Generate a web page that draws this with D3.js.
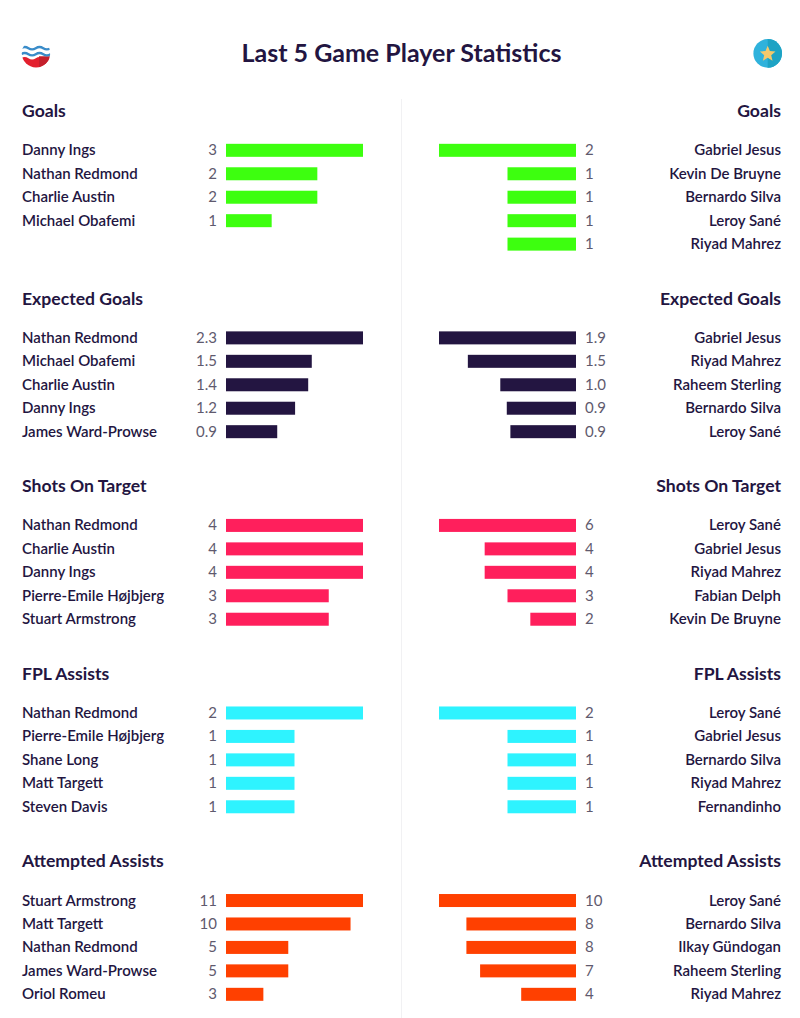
<!DOCTYPE html>
<html>
<head>
<meta charset="utf-8">
<script src="https://cdn.jsdelivr.net/npm/d3@7"></script>
<style>
  html, body { margin: 0; padding: 0; background: #fff; }
  text { font-family: Lato, sans-serif; }
</style>
</head>
<body>
<svg id="chart"></svg>
<script>
const [W, H] = [800, 1018];
const NAVY = '#231541';
const GREY = '#5f5a6e';

const pageTitle = 'Last 5 Game Player Statistics';
const statNames = ['Goals', 'Expected Goals', 'Shots On Target', 'FPL Assists', 'Attempted Assists'];
const statColors = ['#3dff0f', '#231541', '#ff1f5c', '#2ef3ff', '#ff4000'];

// bar lengths do not always agree with the rounded label, so labels are kept apart
const homeNames = [
    ['Danny Ings', 'Nathan Redmond', 'Charlie Austin', 'Michael Obafemi'],
    ['Nathan Redmond', 'Michael Obafemi', 'Charlie Austin', 'Danny Ings', 'James Ward-Prowse'],
    ['Nathan Redmond', 'Charlie Austin', 'Danny Ings', 'Pierre-Emile Højbjerg', 'Stuart Armstrong'],
    ['Nathan Redmond', 'Pierre-Emile Højbjerg', 'Shane Long', 'Matt Targett', 'Steven Davis'],
    ['Stuart Armstrong', 'Matt Targett', 'Nathan Redmond', 'James Ward-Prowse', 'Oriol Romeu']
];
const homeLabels = [
    ['3', '2', '2', '1'],
    ['2.3', '1.5', '1.4', '1.2', '0.9'],
    ['4', '4', '4', '3', '3'],
    ['2', '1', '1', '1', '1'],
    ['11', '10', '5', '5', '3']
];
const homeValues = [
    [3, 2, 2, 1],
    [2.3, 1.44, 1.38, 1.16, 0.86],
    [4, 4, 4, 3, 3],
    [2, 1, 1, 1, 1],
    [11, 10, 5, 5, 3]
];
const awayNames = [
    ['Gabriel Jesus', 'Kevin De Bruyne', 'Bernardo Silva', 'Leroy Sané', 'Riyad Mahrez'],
    ['Gabriel Jesus', 'Riyad Mahrez', 'Raheem Sterling', 'Bernardo Silva', 'Leroy Sané'],
    ['Leroy Sané', 'Gabriel Jesus', 'Riyad Mahrez', 'Fabian Delph', 'Kevin De Bruyne'],
    ['Leroy Sané', 'Gabriel Jesus', 'Bernardo Silva', 'Riyad Mahrez', 'Fernandinho'],
    ['Leroy Sané', 'Bernardo Silva', 'Ilkay Gündogan', 'Raheem Sterling', 'Riyad Mahrez']
];
const awayLabels = [
    ['2', '1', '1', '1', '1'],
    ['1.9', '1.5', '1.0', '0.9', '0.9'],
    ['6', '4', '4', '3', '2'],
    ['2', '1', '1', '1', '1'],
    ['10', '8', '8', '7', '4']
];
const awayValues = [
    [2, 1, 1, 1, 1],
    [1.9, 1.5, 1.05, 0.96, 0.91],
    [6, 4, 4, 3, 2],
    [2, 1, 1, 1, 1],
    [10, 8, 8, 7, 4]
];

function drawSide(svg, names, labels, values, color, top, isHome) {
    const x = d3.scaleLinear()
        .domain([0, d3.max(values)])
        .range(isHome ? [226, 363] : [576, 439]);
    const y = d3.scaleBand()
        .domain(d3.range(5))
        .range([top + 27.6, top + 27.6 + 5 * 23.45]);
    const rows = svg.append('g').selectAll('g')
        .data(values).enter().append('g');

    rows.append('rect')
        .attr('x', d => isHome ? x(0) : x(d))
        .attr('y', (d, i) => y(i) + y.bandwidth() / 2 - 6.5)
        .attr('width', d => Math.abs(x(d) - x(0)))
        .attr('height', 13)
        .attr('fill', color);

    rows.append('text')
        .attr('x', isHome ? 22 : 781)
        .attr('y', (d, i) => y(i) + y.bandwidth() / 2 + 5)
        .attr('text-anchor', isHome ? 'start' : 'end')
        .attr('font-size', 15)
        .attr('font-weight', 600)
        .attr('fill', NAVY)
        .text((d, i) => names[i]);

    rows.append('text')
        .attr('x', isHome ? 217 : 585)
        .attr('y', (d, i) => y(i) + y.bandwidth() / 2 + 5)
        .attr('text-anchor', isHome ? 'end' : 'start')
        .attr('font-size', 15)
        .attr('fill', GREY)
        .text((d, i) => labels[i]);

    svg.append('text')
        .attr('x', isHome ? 22 : 781)
        .attr('y', top + 6)
        .attr('text-anchor', isHome ? 'start' : 'end')
        .attr('font-size', 17.6)
        .attr('font-weight', 700)
        .attr('fill', NAVY)
        .text(statNames[statColors.indexOf(color)]);
}

function drawBadges(svg) {
    // home badge, waves and red hull clipped to the round crest
    svg.append('clipPath').attr('id', 'crest')
        .append('circle').attr('r', 14.2);
    const home = svg.append('g')
        .attr('transform', 'translate(36,53.2)')
        .attr('clip-path', 'url(#crest)');
    home.append('path')
        .attr('d', 'M-15,5 q3.7,-2.4 7.4,0 t7.4,0 t7.4,0 t7.4,0 V15 H-15 Z')
        .attr('fill', '#e3202e');
    home.append('path').attr('d', 'M3,3 H15 V15 H3 Z').attr('fill', '#c4202c');
    [-5, 1].forEach(dy => {
        home.append('path')
            .attr('d', `M-15,${dy} q3.7,-2.4 7.4,0 t7.4,0 t7.4,0 t7.4,0`)
            .attr('fill', 'none')
            .attr('stroke', '#3a8cc9')
            .attr('stroke-width', 2.4);
    });

    // away badge
    const away = svg.append('g').attr('transform', 'translate(767.7,53.4)');
    away.append('circle').attr('r', 14.3).attr('fill', '#2fb2dc');
    away.append('path').attr('d', 'M0,-14.3 A14.3,14.3 0 0 1 0,14.3 Z').attr('fill', '#1ea3c4');
    const star = d3.range(10).map(i => {
        const r = i % 2 ? 3.7 : 8.2;
        const a = i * Math.PI / 5;
        return [r * Math.sin(a), -r * Math.cos(a) + 0.6];
    });
    away.append('polygon').attr('points', star.join(' ')).attr('fill', '#f5c96b');
}

function main() {
    const svg = d3.select('#chart').attr('width', W).attr('height', H);

    svg.append('rect').attr('x', 401).attr('y', 99).attr('width', 1).attr('height', 919).attr('fill', '#f1f1f3');

    svg.append('text')
        .attr('x', 401.5).attr('y', 62)
        .attr('text-anchor', 'middle')
        .attr('font-size', 25)
        .attr('font-weight', 700)
        .attr('fill', NAVY)
        .text(pageTitle);

    drawBadges(svg);

    statNames.forEach((stat, s) => {
        const top = 111 + s * 187.55;
        drawSide(svg, homeNames[s], homeLabels[s], homeValues[s], statColors[s], top, true);
        drawSide(svg, awayNames[s], awayLabels[s], awayValues[s], statColors[s], top, false);
    });
}

document.addEventListener('DOMContentLoaded', main);
</script>
</body>
</html>
